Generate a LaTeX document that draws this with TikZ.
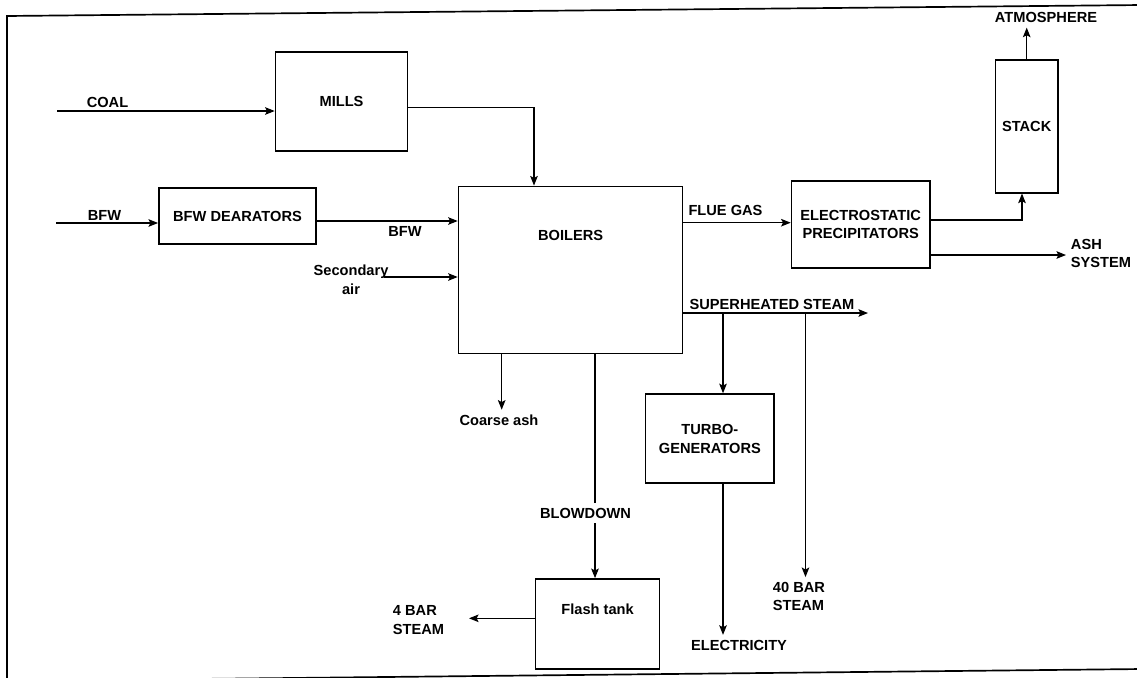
\documentclass[tikz,border=0pt]{standalone}
\usepackage{fontspec}
\setmainfont{Liberation Sans}
\usepackage{tikz}
\usetikzlibrary{arrows, arrows.meta}
\tikzstyle{unit} = [
    rectangle,
    draw=black,
    line width=1.2pt,
    align=center,
    font=\fontsize{10.4}{13.2}\selectfont\bfseries
]
\tikzstyle{stream} = [
    align=center,
    font=\fontsize{10.4}{13.2}\selectfont\bfseries
]
\tikzstyle{arrow} = [line width=0.8pt,->,>={Stealth[length=2.4mm,width=1.9mm,inset=0.5mm]}]
\tikzstyle{pipe} = [line width=0.8pt]

\begin{document}
\begin{tikzpicture}[x=0.025cm,y=-0.025cm]

\useasboundingbox (0,0) rectangle (1137,677);
% scanned page frame, slightly skewed
\draw [line width=1.2pt] (7,16) -- (1142,5) -- (1142,669) -- (7,681) -- cycle;

\node (mills) [unit, minimum width=3.30cm, minimum height=2.48cm]
at (341.5,101.3) {MILLS};

\node (dearators) [unit, minimum width=3.93cm, minimum height=1.40cm]
at (237.5,216) {BFW DEARATORS};

\node (boilers) [unit, minimum width=5.60cm, minimum height=4.18cm,
    label={[stream, anchor=center, yshift=-1.24cm]north:BOILERS}]
at (570.6,270) {};

\node (esp) [unit, minimum width=3.46cm, minimum height=2.18cm]
at (860.7,224.5) {ELECTROSTATIC\\PRECIPITATORS};

\node (stack) [unit, minimum width=1.56cm, minimum height=3.32cm]
at (1026.7,126.3) {STACK};

\node (tg) [unit, minimum width=3.22cm, minimum height=2.23cm]
at (709.9,438.7) {TURBO-\\GENERATORS};

\node (flash) [unit, minimum width=3.10cm, minimum height=2.25cm,
    label={[stream, anchor=center, yshift=-0.77cm]north:Flash tank}]
at (597.6,624) {};

% stream labels
\node (coal) [stream] at (107.5,102) {COAL};
\node (bfw) [stream] at (104.5,215) {BFW};
\node (bfwfeed) [stream] at (405,231) {BFW};
\node (secair) [stream] at (351,280) {Secondary\\air};
\node (flue) [stream] at (725.5,210) {FLUE GAS};
\node (atmos) [stream] at (1046,17.5) {ATMOSPHERE};
\node (ash) [stream, align=left, anchor=west] at (1066,253.5) {ASH\\SYSTEM};
\node (sh) [stream] at (772,304) {SUPERHEATED STEAM};
\node (cash) [stream] at (499,420) {Coarse ash};
\node (blow) [stream] at (585.5,513) {BLOWDOWN};
\node (bar40) [stream, align=left, anchor=west] at (768,596.5) {40 BAR\\STEAM};
\node (elec) [stream] at (739,645) {ELECTRICITY};
\node (bar4) [stream, align=left, anchor=west] at (388,620) {4 BAR\\STEAM};

\coordinate (coalin) at (57,111);
\coordinate (bfwin) at (56,223);
\coordinate (feedrow) at (320,221);
\coordinate (secin) at (384,277);
\coordinate (millsrow) at (410,107.3);
\coordinate (coalfeed) at (534,190);
\coordinate (fluerow) at (700,222.7);
\coordinate (stackrow) at (940,220);
\coordinate (stackfeed) at (1022,200);
\coordinate (ashrow) at (940,255);
\coordinate (shend) at (868,313);
\coordinate (tgtap) at (723,313);
\coordinate (bartap) at (805.5,313);
\coordinate (ashtap) at (501.7,360);
\coordinate (blowtap) at (595,360);
\coordinate (bar4in) at (469,618.3);

\draw [arrow] (coalin) -- (coalin -| mills.west);
\draw [arrow] (bfwin) -- (bfwin -| dearators.west);
\draw [arrow] (mills.east |- millsrow) -| (coalfeed |- boilers.north);
\draw [arrow] (dearators.east |- feedrow) -- (boilers.west |- feedrow);
\draw [arrow] (secin) -- (secin -| boilers.west);
\draw [arrow] (boilers.east |- fluerow) -- (esp.west |- fluerow);
\draw [arrow] (esp.east |- stackrow) -| (stackfeed |- stack.south);
\draw [arrow] (stack.north) -- (stack.north |- atmos.south);
\draw [arrow] (esp.east |- ashrow) -- (ash.west |- ashrow);
\draw [arrow] (boilers.east |- shend) -- (shend);
\draw [arrow] (tgtap) -- (tgtap |- tg.north);
\draw [arrow] (bartap) -- (bartap |- bar40.north);
\draw [arrow] (tg.south -| tgtap) -- (tgtap |- elec.north);
\draw [arrow] (boilers.south -| ashtap) -- (ashtap |- cash.north);
\draw [pipe] (boilers.south -| blowtap) -- (blowtap |- blow.north);
\draw [arrow] (blowtap |- blow.south) -- (blowtap |- flash.north);
\draw [arrow] (flash.west |- bar4in) -- (bar4in);

\end{tikzpicture}
\end{document}
